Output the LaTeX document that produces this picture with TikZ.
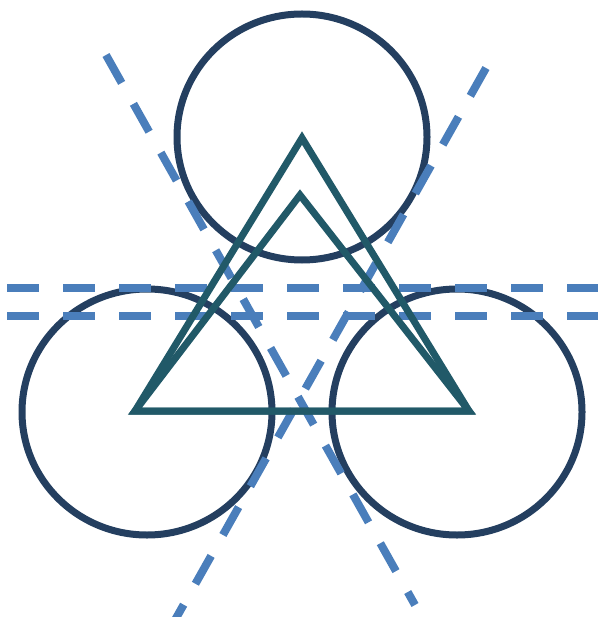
\documentclass[tikz,border=0pt]{standalone}
\usepackage{tikz}
\usetikzlibrary{calc}

\definecolor{ringblue}{HTML}{243F60}
\definecolor{triteal}{HTML}{215968}
\definecolor{guideblue}{HTML}{4A7EBB}

\begin{document}
\begin{tikzpicture}[
  x=1pt, y=-1pt,
  ring/.style={draw=ringblue, line width=7pt},
  tri/.style={draw=triteal, line width=7pt, line join=miter},
  guide/.style={draw=guideblue, line width=8pt, dash pattern=on 32pt off 24pt}
]
\useasboundingbox (0,0) rectangle (598,617);

% centres of the three circles
\coordinate (ctop) at (302,137);
\coordinate (cleft) at (147,412);
\coordinate (cright) at (457,412);

% triangle corners
\coordinate (apex) at (302,138);
\coordinate (apexin) at (300,195);
\coordinate (bl) at (135,411);
\coordinate (br) at (469,411);

% guide line ends
\coordinate (h1a) at (7,288);
\coordinate (h1b) at (598,288);
\coordinate (h2a) at (7,316);
\coordinate (h2b) at (598,316);
\coordinate (d1a) at (106,55);
\coordinate (d1b) at (415,605);
\coordinate (d2a) at (486,68);
\coordinate (d2b) at (175,620);

\draw[ring] (ctop) ellipse (125 and 123);
\draw[ring] (cleft) ellipse (125 and 123);
\draw[ring] (cright) ellipse (125 and 123);

\draw[guide] (h1a) -- (h1b);
\draw[guide] (h2a) -- (h2b);
\draw[guide] (d1a) -- (d1b);
\draw[guide] (d2a) -- (d2b);

\draw[tri] (apex) -- (br) -- (bl) -- cycle;
\draw[tri] (apexin) -- (br) -- (bl) -- cycle;

\end{tikzpicture}
\end{document}
